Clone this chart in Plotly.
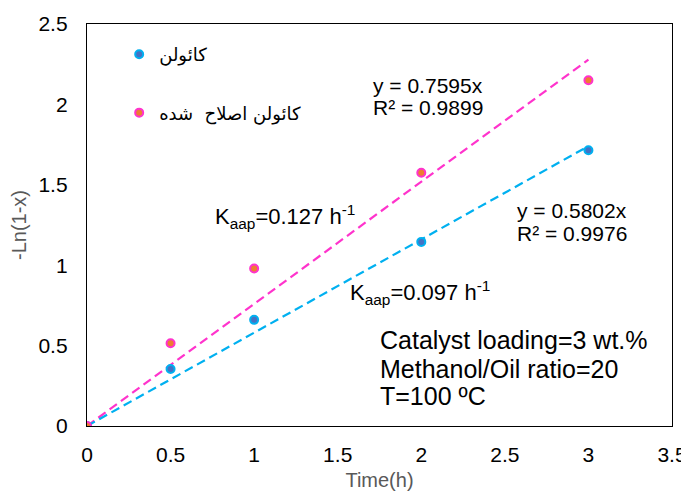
import plotly.graph_objects as go

time_h = [0, 0.5, 1, 2, 3]
kaolin = [0, 0.355, 0.66, 1.145, 1.715]
modified = [0, 0.515, 0.98, 1.575, 2.15]
slope_kaolin = 0.5802
slope_modified = 0.7595
trend_x = [0, 3]

name_kaolin = "كائولن"
name_modified = "كائولن اصلاح  شده"

blue_ring, blue_fill = "#00B0F0", "#4472C4"
pink_ring, pink_fill = "#FF33CC", "#ED7D31"
FONT = "Liberation Sans, Arial, DejaVu Sans, sans-serif"

fig = go.Figure()
fig.add_trace(go.Scatter(x=trend_x, y=[slope_modified * v for v in trend_x], mode="lines",
                         line=dict(color=pink_ring, width=2.2, dash="9px,5px"), showlegend=False, hoverinfo="skip"))
fig.add_trace(go.Scatter(x=trend_x, y=[slope_kaolin * v for v in trend_x], mode="lines",
                         line=dict(color=blue_ring, width=2.2, dash="9px,5px"), showlegend=False, hoverinfo="skip"))
fig.add_trace(go.Scatter(x=time_h, y=kaolin, mode="markers", name=name_kaolin, legendgroup="a",
                         marker=dict(size=8, color=blue_fill, line=dict(color=blue_ring, width=2))))
fig.add_trace(go.Scatter(x=time_h, y=modified, mode="markers", name=name_modified, legendgroup="b",
                         marker=dict(size=8, color=pink_fill, line=dict(color=pink_ring, width=2))))

ann_font = dict(family=FONT, size=21, color="#000000")
k_font = dict(family=FONT, size=22, color="#000000")
box_font = dict(family=FONT, size=25, color="#000000")
anns = [
    dict(x=1.70, y=2.12, text="y = 0.7595x", f=ann_font),
    dict(x=1.70, y=1.98, text="R² = 0.9899", f=ann_font),
    dict(x=2.56, y=1.34, text="y = 0.5802x", f=ann_font),
    dict(x=2.56, y=1.20, text="R² = 0.9976", f=ann_font),
    dict(x=0.755, y=1.30, text="K<sub>aap</sub>=0.127 h<sup>-1</sup>", f=k_font),
    dict(x=1.56, y=0.83, text="K<sub>aap</sub>=0.097 h<sup>-1</sup>", f=k_font),
]
for a in anns:
    fig.add_annotation(x=a["x"], y=a["y"], text=a["text"], showarrow=False, xanchor="left",
                       yanchor="middle", font=a["f"])
box_lines = ["Catalyst loading=3 wt.%", "Methanol/Oil ratio=20", "T=100 ºC"]
box_y = [0.535, 0.355, 0.185]
for t, yy in zip(box_lines, box_y):
    fig.add_annotation(x=1.74, y=yy, text=t, showarrow=False, xanchor="left", yanchor="middle", font=box_font)

fig.update_layout(
    width=681, height=483,
    margin=dict(l=79, r=17, t=16, b=65),
    paper_bgcolor="white", plot_bgcolor="white",
    font=dict(family=FONT, size=21, color="#000000"),
    showlegend=True,
    legend=dict(x=0.055, y=0.97, xanchor="left", yanchor="top", tracegroupgap=32,
                font=dict(family="DejaVu Sans, sans-serif", size=18), bgcolor="rgba(0,0,0,0)"),
    xaxis=dict(range=[0, 3.5], dtick=0.5, tick0=0, showgrid=False, zeroline=False, automargin=False,
               showline=True, mirror=True, linecolor="#000000", linewidth=1.3, ticks="",
               ticklabelstandoff=10,
               tickfont=dict(size=21), title=dict(text="Time(h)", font=dict(size=20, color="#595959"), standoff=9)),
    yaxis=dict(range=[0, 2.5], dtick=0.5, tick0=0, showgrid=False, zeroline=False, automargin=False,
               showline=True, mirror=True, linecolor="#000000", linewidth=1.3, ticks="",
               ticklabelstandoff=14,
               tickfont=dict(size=21), title=dict(text="-Ln(1-x)", font=dict(size=20, color="#595959"), standoff=12)),
)
fig.write_html("out.html")
